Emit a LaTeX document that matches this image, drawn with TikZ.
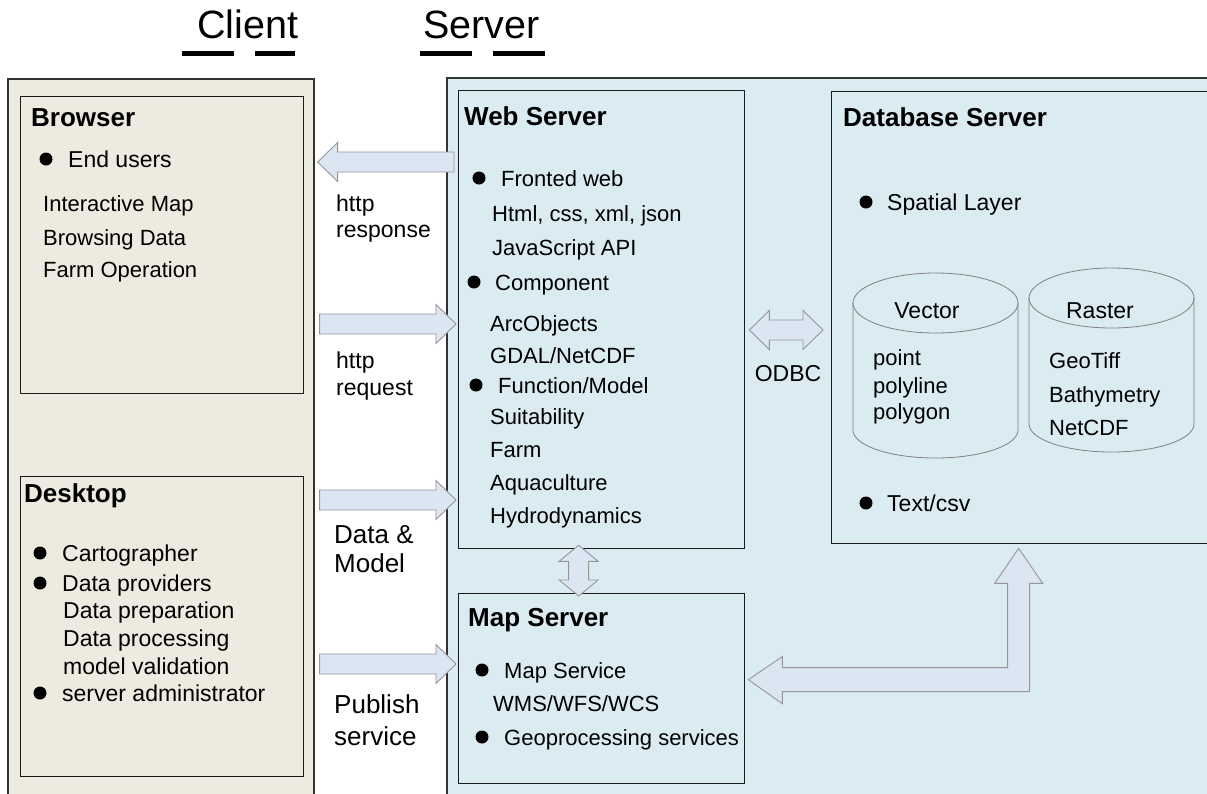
\documentclass[tikz,border=0pt]{standalone}
\usepackage{fontspec}
\setmainfont{Liberation Sans}
\usepackage{tikz}
\usetikzlibrary{calc}
\definecolor{clientbg}{RGB}{237,234,224}
\definecolor{serverbg}{RGB}{218,236,242}
\definecolor{arrowbg}{RGB}{220,230,242}
\definecolor{arrowln}{RGB}{150,150,150}
\tikzset{%
  outerbox/.style={draw=black!80, line width=1.6pt, anchor=north west, inner sep=0pt},
  innerbox/.style={draw=black!90, line width=1.3pt, anchor=north west, inner sep=0pt},
  txt/.style={anchor=base west, inner sep=0pt, font=\fontsize{22}{26}\selectfont},
  dtxt/.style={anchor=base west, inner sep=0pt, font=\fontsize{23}{27}\selectfont},
  ttl/.style={anchor=base west, inner sep=0pt, font=\bfseries\fontsize{26}{30}\selectfont},
  lbl/.style={anchor=base west, inner sep=0pt, font=\fontsize{23}{27}\selectfont},
  biglbl/.style={anchor=base west, inner sep=0pt, font=\fontsize{26}{31}\selectfont},
  head/.style={anchor=base west, inner sep=0pt, font=\fontsize{39.5}{44}\selectfont},
  dot/.style={circle, fill=black, inner sep=0pt, minimum size=13pt},
  uline/.style={line width=5pt, dash pattern=on 52pt off 21pt},
  fat/.style={fill=arrowbg, draw=arrowln, line width=0.9pt, line join=miter},
  cyl/.style={draw=black!50, line width=0.8pt},
}
\newcommand{\fatarrow}[2]{%
  \coordinate (fah) at ($(#2)!20pt!(#1)$);
  \filldraw[fat] ($(#1)!10pt!90:(#2)$) -- ($(fah)!10pt!90:(#2)$) -- ($(fah)!19.5pt!90:(#2)$) -- (#2)
    -- ($(fah)!19.5pt!-90:(#2)$) -- ($(fah)!10pt!-90:(#2)$) -- ($(#1)!10pt!-90:(#2)$) -- cycle ;}
\newcommand{\fatdarrow}[3]{%
  \coordinate (fha) at ($(#1)!#3!(#2)$);
  \coordinate (fhb) at ($(#2)!#3!(#1)$);
  \filldraw[fat] (#1) -- ($(fha)!19.5pt!90:(#2)$) -- ($(fha)!10pt!90:(#2)$) -- ($(fhb)!10pt!90:(#2)$)
    -- ($(fhb)!19.5pt!90:(#2)$) -- (#2) -- ($(fhb)!19.5pt!-90:(#2)$) -- ($(fhb)!10pt!-90:(#2)$)
    -- ($(fha)!10pt!-90:(#2)$) -- ($(fha)!19.5pt!-90:(#2)$) -- cycle ;}

\begin{document}
\begin{tikzpicture}[x=1pt,y=-1pt]
\useasboundingbox (0,0) rectangle (1207,793) ;
\clip (0,0) rectangle (1207,793) ;
\fill[white] (0,0) rectangle (1207,793) ;
\node[head] (ctitle) at (197,38) {Client} ;
\node[head] (stitle) at (423,38) {Server} ;
\draw[uline] ($(ctitle.base west)+(-15,15)$) -- ++(113,0) ;
\draw[uline] ($(stitle.base west)+(-3,15)$) -- ++(126,0) ;
\node[outerbox, fill=clientbg, minimum width=306pt, minimum height=730pt] (client) at (7,78) {} ;
\node[outerbox, fill=serverbg, minimum width=775pt, minimum height=730pt] (server) at (446,77) {} ;
\node[innerbox, minimum width=283pt, minimum height=297pt] (browser) at (20,96) {} ;
\node[innerbox, minimum width=283pt, minimum height=300pt] (desktop) at (20,476) {} ;
\node[innerbox, minimum width=286pt, minimum height=458pt] (web) at (458,90) {} ;
\node[innerbox, minimum width=286pt, minimum height=190pt] (mapsrv) at (458,593) {} ;
\node[innerbox, minimum width=390pt, minimum height=452pt] (db) at (831,91) {} ;
\node[ttl] (tbrowser) at (31,126) {Browser} ;
\node[dot] (d1) at (46,159) {} ;
\node[dtxt] (enduser) at (68,167) {End users} ;
\node[txt] (imap) at (43,211) {Interactive Map} ;
\node[txt] (bdata) at (43,245) {Browsing Data} ;
\node[txt] (farmop) at (43,277) {Farm Operation} ;
\node[ttl] (tdesktop) at (24,502) {Desktop} ;
\node[dot] (d2) at (40,553) {} ;
\node[dtxt] (carto) at (62,561) {Cartographer} ;
\node[dot] (d3) at (40,583) {} ;
\node[dtxt] (dprov) at (62,591) {Data providers} ;
\node[dtxt] (dprep) at (63,618) {Data preparation} ;
\node[dtxt] (dproc) at (63,646) {Data processing} ;
\node[dtxt] (mval) at (63,674) {model validation} ;
\node[dot] (d4) at (40,693) {} ;
\node[dtxt] (sadmin) at (62,701) {server administrator} ;
\node[ttl] (tweb) at (464,125) {Web Server} ;
\node[dot] (d5) at (479,178) {} ;
\node[txt] (fweb) at (501,186) {Fronted web} ;
\node[txt] (html) at (492,221) {Html, css, xml, json} ;
\node[txt] (jsapi) at (492,255) {JavaScript API} ;
\node[dot] (d6) at (474,282) {} ;
\node[txt] (comp) at (495,290) {Component} ;
\node[txt] (arcobj) at (490,331) {ArcObjects} ;
\node[txt] (gdal) at (490,363) {GDAL/NetCDF} ;
\node[dot] (d7) at (476,385) {} ;
\node[txt] (fmodel) at (498,393) {Function/Model} ;
\node[txt] (suit) at (490,424) {Suitability} ;
\node[txt] (farm) at (490,457) {Farm} ;
\node[txt] (aqua) at (490,490) {Aquaculture} ;
\node[txt] (hydro) at (490,523) {Hydrodynamics} ;
\node[ttl] (tmap) at (468,626) {Map Server} ;
\node[dot] (d8) at (482,670) {} ;
\node[txt] (mserv) at (504,678) {Map Service} ;
\node[txt] (wms) at (493,711) {WMS/WFS/WCS} ;
\node[dot] (d9) at (482,737) {} ;
\node[txt] (geop) at (504,745) {Geoprocessing services} ;
\node[ttl] (tdb) at (843,126) {Database Server} ;
\node[dot] (d10) at (866,202) {} ;
\node[lbl] (spat) at (887,210) {Spatial Layer} ;
\node[dot] (d11) at (866,503) {} ;
\node[lbl] (tcsv) at (887,511) {Text/csv} ;
\filldraw[cyl, fill=serverbg] (853,303) -- (853,430) arc[start angle=180, end angle=360, x radius=82.5pt, y radius=28pt] -- (1018,303) ;
\draw[cyl] (935.5,303) ellipse[x radius=82.5pt, y radius=30pt] ;
\filldraw[cyl, fill=serverbg] (1029,298) -- (1029,424) arc[start angle=180, end angle=360, x radius=82.5pt, y radius=28pt] -- (1194,298) ;
\draw[cyl] (1111.5,298) ellipse[x radius=82.5pt, y radius=30pt] ;
\node[lbl, anchor=base] (tvec) at (927,318) {Vector} ;
\node[txt] (pnt) at (873,365) {point} ;
\node[txt] (pline) at (873,393) {polyline} ;
\node[txt] (pgon) at (873,419) {polygon} ;
\node[lbl, anchor=base] (tras) at (1100,318) {Raster} ;
\node[txt] (gtiff) at (1049,368) {GeoTiff} ;
\node[txt] (bathy) at (1049,402) {Bathymetry} ;
\node[txt] (ncdf) at (1049,435) {NetCDF} ;
\node[lbl] (lhttp1) at (336,211) {http} ;
\node[lbl] (lresp) at (336,237) {response} ;
\node[lbl] (lhttp2) at (336,368) {http} ;
\node[lbl] (lreq) at (336,395) {request} ;
\node[biglbl] (ldata) at (334,543) {Data \&} ;
\node[biglbl] (lmodel) at (334,572) {Model} ;
\node[biglbl] (lpub) at (334,713) {Publish} ;
\node[biglbl] (lserv) at (334,745) {service} ;
\node[lbl, anchor=base] (lodbc) at (788,381) {ODBC} ;
\coordinate (rspA) at ($(web.west |- 0,162)+(-4,0)$) ;
\coordinate (rspB) at ($(client.east |- 0,162)+(3,0)$) ;
\fatarrow{rspA}{rspB}
\coordinate (reqA) at ($(client.east |- 0,324)+(5,0)$) ;
\coordinate (reqB) at ($(web.west |- 0,324)+(-2,0)$) ;
\fatarrow{reqA}{reqB}
\coordinate (dmA) at ($(client.east |- 0,500)+(5,0)$) ;
\coordinate (dmB) at ($(web.west |- 0,500)+(-2,0)$) ;
\fatarrow{dmA}{dmB}
\coordinate (pubA) at ($(client.east |- 0,664)+(5,0)$) ;
\coordinate (pubB) at ($(mapsrv.west |- 0,664)+(-2,0)$) ;
\fatarrow{pubA}{pubB}
\coordinate (odA) at ($(web.east |- 0,330)+(4,0)$) ;
\coordinate (odB) at ($(db.west |- 0,330)+(-8,0)$) ;
\fatdarrow{odA}{odB}{20pt}
\coordinate (wmA) at ($(web.south)+(-23,-4)$) ;
\coordinate (wmB) at ($(mapsrv.north)+(-23,3)$) ;
\fatdarrow{wmA}{wmB}{16pt}
\coordinate (lA) at ($(mapsrv.east)+(3,-9)$) ;
\coordinate (lC) at ($(db.south)+(-8,4)$) ;
\coordinate (lB) at (lC |- lA) ;
\filldraw[fat] (lA) -- ++(34,-23) -- ++(0,11) -- ($(lB)+(-11,-12)$) -- ($(lC)+(-11,35)$) -- ++(-13,0) -- (lC)
  -- ($(lC)+(24,35)$) -- ++(-13,0) -- ($(lB)+(11,12)$) -- ($(lA)+(34,12)$) -- ++(0,12) -- cycle ;
\end{tikzpicture}
\end{document}
